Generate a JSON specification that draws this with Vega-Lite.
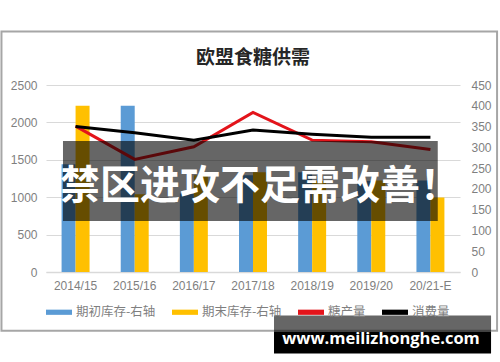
{
  "$schema": "https://vega.github.io/schema/vega-lite/v6.json",
  "width": 414,
  "height": 187,
  "autosize": {"type": "none"},
  "padding": {"left": 46, "top": 85, "right": 40, "bottom": 90},
  "background": "white",
  "title": {"text": "欧盟食糖供需", "fontSize": 19, "font": "Noto Sans CJK SC", "fontWeight": "bold", "color": "#262626", "offset": -38, "anchor": "middle"},
  "config": {"view": {"stroke": null}},
  "datasets": {
    "stocks": [
      {"year": "2014/15", "series": "期初库存-右轴", "stock": 259},
      {"year": "2015/16", "series": "期初库存-右轴", "stock": 400},
      {"year": "2016/17", "series": "期初库存-右轴", "stock": 189},
      {"year": "2017/18", "series": "期初库存-右轴", "stock": 233},
      {"year": "2018/19", "series": "期初库存-右轴", "stock": 240},
      {"year": "2019/20", "series": "期初库存-右轴", "stock": 219},
      {"year": "20/21-E", "series": "期初库存-右轴", "stock": 220},
      {"year": "2014/15", "series": "期末库存-右轴", "stock": 400},
      {"year": "2015/16", "series": "期末库存-右轴", "stock": 187},
      {"year": "2016/17", "series": "期末库存-右轴", "stock": 233},
      {"year": "2017/18", "series": "期末库存-右轴", "stock": 240},
      {"year": "2018/19", "series": "期末库存-右轴", "stock": 219},
      {"year": "2019/20", "series": "期末库存-右轴", "stock": 220},
      {"year": "20/21-E", "series": "期末库存-右轴", "stock": 179}
    ],
    "supply": [
      {"year": "2014/15", "series": "糖产量", "value": 1950},
      {"year": "2015/16", "series": "糖产量", "value": 1505},
      {"year": "2016/17", "series": "糖产量", "value": 1674},
      {"year": "2017/18", "series": "糖产量", "value": 2134},
      {"year": "2018/19", "series": "糖产量", "value": 1763},
      {"year": "2019/20", "series": "糖产量", "value": 1741},
      {"year": "20/21-E", "series": "糖产量", "value": 1639},
      {"year": "2014/15", "series": "消费量", "value": 1945},
      {"year": "2015/16", "series": "消费量", "value": 1861},
      {"year": "2016/17", "series": "消费量", "value": 1763},
      {"year": "2017/18", "series": "消费量", "value": 1897},
      {"year": "2018/19", "series": "消费量", "value": 1840},
      {"year": "2019/20", "series": "消费量", "value": 1800},
      {"year": "20/21-E", "series": "消费量", "value": 1800}
    ]
  },
  "layer": [
    {
      "data": {"name": "stocks"},
      "mark": {"type": "bar"},
      "encoding": {
        "x": {"field": "year", "type": "nominal", "sort": ["2014/15", "2015/16", "2016/17", "2017/18", "2018/19", "2019/20", "20/21-E"],
          "scale": {"paddingInner": 0.527, "paddingOuter": 0.2635},
          "axis": {"title": null, "labelAngle": 0, "ticks": false, "domainColor": "#d9d9d9", "domainWidth": 1.5, "labelPadding": 8, "labelFontSize": 12, "labelColor": "#7f7f7f", "labelFont": "Liberation Sans"}},
        "xOffset": {"field": "series", "type": "nominal", "sort": ["期初库存-右轴", "期末库存-右轴"], "scale": {"paddingInner": 0, "paddingOuter": 0}},
        "y": {"field": "stock", "type": "quantitative", "scale": {"domain": [0, 450], "nice": false},
          "axis": {"orient": "right", "values": [0, 50, 100, 150, 200, 250, 300, 350, 400, 450], "format": "d", "labelOverlap": false, "grid": false, "title": null, "ticks": false, "domain": false, "labelPadding": 11, "labelFontSize": 12, "labelColor": "#7f7f7f", "labelFont": "Liberation Sans"}},
        "color": {"field": "series", "type": "nominal",
          "scale": {"domain": ["期初库存-右轴", "期末库存-右轴", "糖产量", "消费量"], "range": ["#5B9BD5", "#FFC000", "#E3141B", "#000000"]},
          "legend": {"title": null, "orient": "bottom", "direction": "horizontal", "symbolType": "M-1,-0.2H1V0.2H-1Z", "symbolSize": 676, "symbolStrokeWidth": 0, "labelFontSize": 12.5, "labelFont": "Noto Sans CJK SC", "labelColor": "#7f7f7f", "columnPadding": 16, "labelOffset": 4, "offset": 8, "padding": 0}}
      }
    },
    {
      "layer": [
        {
          "data": {"name": "supply"},
          "mark": {"type": "line", "strokeWidth": 3},
          "encoding": {
            "x": {"field": "year", "type": "nominal", "sort": ["2014/15", "2015/16", "2016/17", "2017/18", "2018/19", "2019/20", "20/21-E"]},
            "y": {"field": "value", "type": "quantitative", "scale": {"domain": [0, 2500], "nice": false},
              "axis": {"orient": "left", "values": [0, 500, 1000, 1500, 2000, 2500], "format": "d", "labelOverlap": false, "grid": true, "gridColor": "#d9d9d9", "gridWidth": 1.2, "title": null, "ticks": false, "domain": false, "labelPadding": 9, "labelFontSize": 12, "labelColor": "#7f7f7f", "labelFont": "Liberation Sans"}},
            "color": {"field": "series", "type": "nominal"}
          }
        },
        {
          "data": {"values": [{"kind": "frame"}]},
          "mark": {"type": "rect", "fill": null, "stroke": "#a6a6a6", "strokeWidth": 2},
          "encoding": {
            "x": {"datum": "2014/15", "type": "nominal", "bandPosition": -2.149},
            "x2": {"datum": "20/21-E", "bandPosition": 2.882},
            "y": {"datum": 3216, "type": "quantitative",
              "axis": {"orient": "left", "values": [0, 500, 1000, 1500, 2000, 2500], "format": "d", "labelOverlap": false, "grid": true, "gridColor": "#d9d9d9", "gridWidth": 1.2, "title": null, "ticks": false, "domain": false, "labelPadding": 9, "labelFontSize": 12, "labelColor": "#7f7f7f", "labelFont": "Liberation Sans"}},
            "y2": {"datum": -787}
          }
        },
        {
          "data": {"values": [{"kind": "band"}]},
          "mark": {"type": "rect", "fill": "#000000", "fillOpacity": 0.6},
          "encoding": {
            "x": {"datum": "2014/15", "type": "nominal", "bandPosition": 0.05},
            "x2": {"datum": "20/21-E", "bandPosition": 0.762},
            "y": {"datum": 1750, "type": "quantitative",
              "axis": {"orient": "left", "values": [0, 500, 1000, 1500, 2000, 2500], "format": "d", "labelOverlap": false, "grid": true, "gridColor": "#d9d9d9", "gridWidth": 1.2, "title": null, "ticks": false, "domain": false, "labelPadding": 9, "labelFontSize": 12, "labelColor": "#7f7f7f", "labelFont": "Liberation Sans"}},
            "y2": {"datum": 683}
          }
        },
        {
          "data": {"values": [{"label": "禁区进攻不足需改善！"}]},
          "mark": {"type": "text", "font": "Noto Sans CJK SC", "fontWeight": "bold", "fontSize": 40, "color": "#ffffff", "align": "center", "baseline": "middle"},
          "encoding": {
            "x": {"datum": "2017/18", "type": "nominal", "bandPosition": 0.75},
            "y": {"datum": 1138, "type": "quantitative",
              "axis": {"orient": "left", "values": [0, 500, 1000, 1500, 2000, 2500], "format": "d", "labelOverlap": false, "grid": true, "gridColor": "#d9d9d9", "gridWidth": 1.2, "title": null, "ticks": false, "domain": false, "labelPadding": 9, "labelFontSize": 12, "labelColor": "#7f7f7f", "labelFont": "Liberation Sans"}},
            "text": {"field": "label"}
          }
        },
        {
          "data": {"values": [{"kind": "wm1"}]},
          "mark": {"type": "rect", "fill": "#000000", "fillOpacity": 0.6},
          "encoding": {
            "x": {"datum": "2017/18", "type": "nominal", "bandPosition": 1.251},
            "x2": {"datum": "20/21-E", "bandPosition": 2.667},
            "y": {"datum": -580, "type": "quantitative",
              "axis": {"orient": "left", "values": [0, 500, 1000, 1500, 2000, 2500], "format": "d", "labelOverlap": false, "grid": true, "gridColor": "#d9d9d9", "gridWidth": 1.2, "title": null, "ticks": false, "domain": false, "labelPadding": 9, "labelFontSize": 12, "labelColor": "#7f7f7f", "labelFont": "Liberation Sans"}},
            "y2": {"datum": -794}
          }
        },
        {
          "data": {"values": [{"kind": "wm2"}]},
          "mark": {"type": "rect", "fill": "#000000"},
          "encoding": {
            "x": {"datum": "2017/18", "type": "nominal", "bandPosition": 1.251},
            "x2": {"datum": "20/21-E", "bandPosition": 2.667},
            "y": {"datum": -794, "type": "quantitative",
              "axis": {"orient": "left", "values": [0, 500, 1000, 1500, 2000, 2500], "format": "d", "labelOverlap": false, "grid": true, "gridColor": "#d9d9d9", "gridWidth": 1.2, "title": null, "ticks": false, "domain": false, "labelPadding": 9, "labelFontSize": 12, "labelColor": "#7f7f7f", "labelFont": "Liberation Sans"}},
            "y2": {"datum": -1089}
          }
        },
        {
          "data": {"values": [{"label": "www.meilizhonghe.com"}]},
          "mark": {"type": "text", "font": "Open Sans", "fontWeight": "bold", "fontSize": 16.5, "color": "#ffffff", "align": "center", "baseline": "alphabetic"},
          "encoding": {
            "x": {"datum": "2019/20", "type": "nominal", "bandPosition": 0.847},
            "y": {"datum": -959, "type": "quantitative",
              "axis": {"orient": "left", "values": [0, 500, 1000, 1500, 2000, 2500], "format": "d", "labelOverlap": false, "grid": true, "gridColor": "#d9d9d9", "gridWidth": 1.2, "title": null, "ticks": false, "domain": false, "labelPadding": 9, "labelFontSize": 12, "labelColor": "#7f7f7f", "labelFont": "Liberation Sans"}},
            "text": {"field": "label"}
          }
        }
      ]
    }
  ],
  "resolve": {"scale": {"y": "independent"}}
}
